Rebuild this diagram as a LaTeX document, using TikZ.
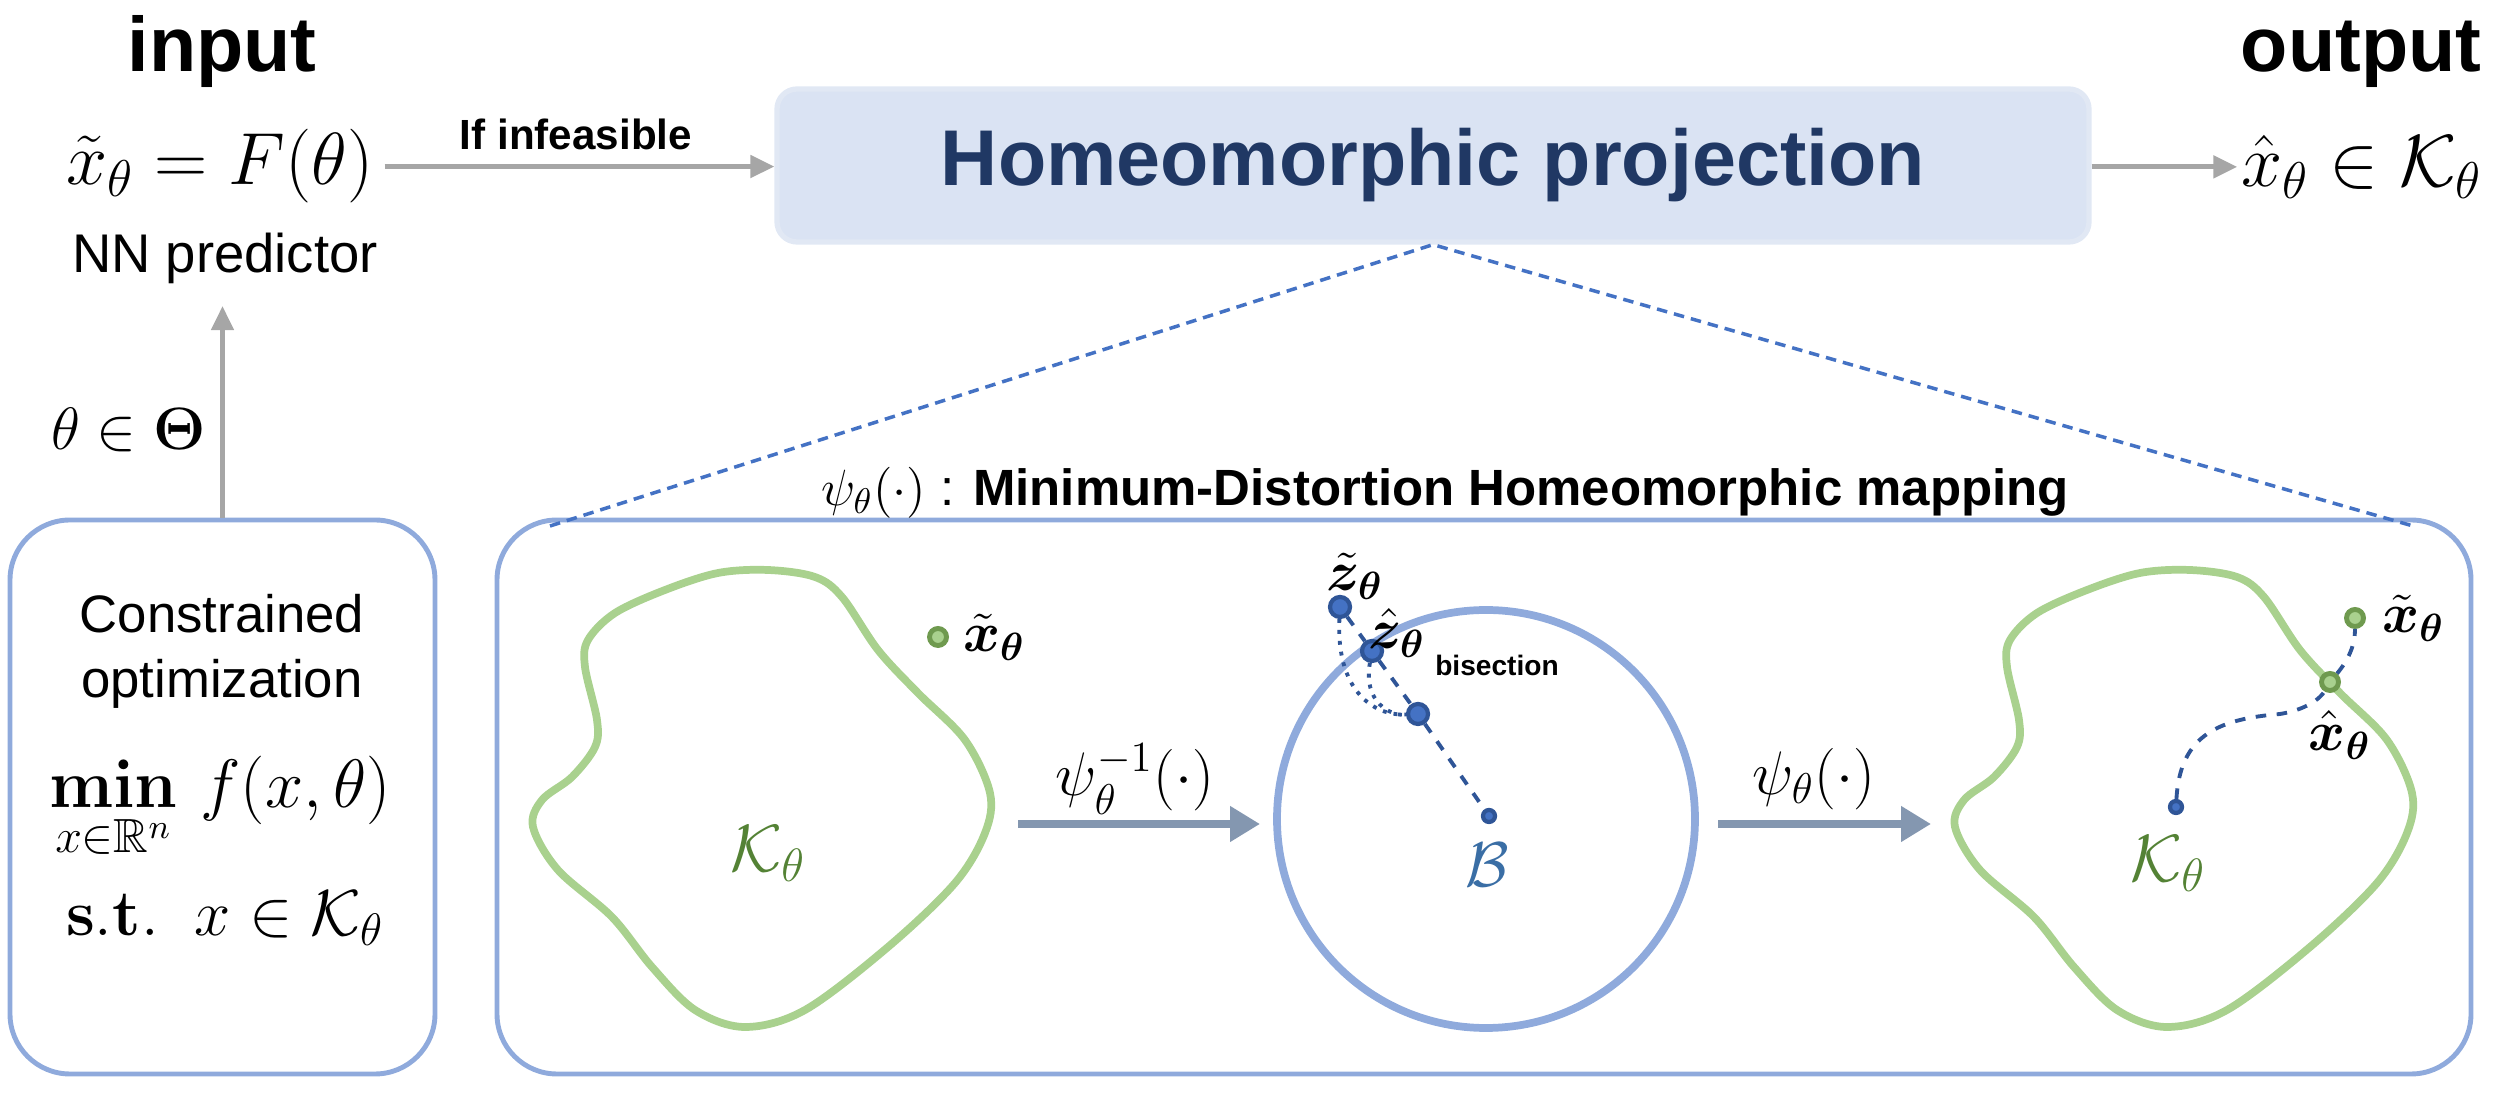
\RequirePackage{fix-cm}
\documentclass[tikz,border=0pt]{standalone}
\usepackage{amsmath,amssymb,bm}
\usepackage[no-math]{fontspec}
\setmainfont{Liberation Sans}
\usetikzlibrary{arrows.meta,positioning}

\definecolor{boxblue}{HTML}{8FAADC}
\definecolor{projfill}{HTML}{DAE3F3}
\definecolor{projline}{HTML}{E1E8F4}
\definecolor{projtext}{HTML}{203864}
\definecolor{arrgray}{HTML}{A6A6A6}
\definecolor{mapgray}{HTML}{8497B0}
\definecolor{blobgreen}{HTML}{A9D18E}
\definecolor{kgreen}{HTML}{548235}
\definecolor{ringgreen}{HTML}{6F9A4F}
\definecolor{dashblue}{HTML}{4472C4}
\definecolor{ptblue}{HTML}{2F5597}
\definecolor{bblue}{HTML}{3A6EA5}

\newcommand{\fsz}[1]{\fontsize{#1}{1.2\dimexpr#1pt\relax}\selectfont}
% outline of the feasible set, reused on both sides
\newcommand{\blobshape}{plot[smooth cycle, tension=0.55] coordinates {
  (7.68,5.24) (8.15,5.17) (8.42,4.97) (8.78,4.44) (9.18,4.01) (9.65,3.54)
  (9.90,3.01) (9.85,2.61) (9.55,2.11) (8.88,1.47) (8.05,0.84) (7.45,0.67)
  (6.95,0.84) (6.52,1.27) (6.12,1.77) (5.58,2.24) (5.33,2.67) (5.42,2.94)
  (5.72,3.17) (5.95,3.47) (5.97,3.74) (5.85,4.27) (5.88,4.54) (6.15,4.81)
  (6.65,5.04) (7.18,5.21)}}

\begin{document}
\begin{tikzpicture}[
  panel/.style={draw=boxblue, line width=1.4pt, rounded corners=0.6cm},
  grayarrow/.style={draw=arrgray, line width=1.4pt, -{Triangle[length=0.24cm,width=0.22cm]}},
  maparrow/.style={draw=mapgray, line width=2.2pt, -{Triangle[length=0.3cm,width=0.34cm]}},
  blob/.style={draw=blobgreen, line width=2.2pt},
  gpoint/.style={circle, draw=ringgreen, fill=blobgreen, line width=1.4pt, inner sep=0pt, minimum size=0.17cm},
  bpoint/.style={circle, draw=ptblue, fill=dashblue, line width=1.2pt, inner sep=0pt, minimum size=0.2cm},
  link/.style={draw=ptblue, line width=1.1pt, dashed},
  zoomline/.style={draw=dashblue, line width=1pt, dash pattern=on 3pt off 2pt},
  head/.style={font=\fsz{22}\bfseries, anchor=base, inner sep=1pt},
  formula/.style={font=\fsz{21}, anchor=base, inner sep=1pt},
  ptlabel/.style={font=\fsz{16}, inner sep=1pt}
]
  \useasboundingbox (0,0) rectangle (25.02,10.94);

  % Top row
  \node[head] (in) at (2.22, 10.22) {input};
  \node[head] (out) at (23.61, 10.22) {output};
  \node[formula] (xt) at (2.20, 9.09) {$\tilde{x}_\theta = F(\theta)$};
  \node[font=\fsz{15.5}, anchor=base, inner sep=2pt] (pred) at (2.25, 8.21) {NN predictor};
  \node[rectangle, rounded corners=0.2cm, fill=projfill, draw=projline, line width=1.5pt,
        minimum width=13.12cm, minimum height=1.53cm, text=projtext, font=\fsz{22.5}\bfseries]
        (proj) at (14.33, 9.285) {Homeomorphic projection};
  \node[formula] (xo) at (23.62, 9.07) {$\hat{x}_\theta \in \mathcal{K}_\theta$};

  \draw[grayarrow, shorten <=2pt] (xt.east) -- node[above=0.02cm, font=\fsz{12}\bfseries] {If infeasible} (xt.east -| proj.west);
  \draw[grayarrow] (proj.east |- xo.west) -- (xo.west);

  % Optimization problem
  \node[panel, minimum width=4.25cm, minimum height=5.54cm] (opt) at (2.225, 2.97) {};
  \node[font=\fsz{15}] (cons) at (2.22, 4.80) {Constrained};
  \node[font=\fsz{15}] (optim) at (2.22, 4.10) {optimization};
  \node[font=\fsz{19.5}, anchor=base] (obj) at (2.20, 2.86)
    {$\mathop{\mathbf{min}}\limits_{x\in\mathbb{R}^n}\, f(x,\theta)$};
  \node[font=\fsz{18.5}, anchor=base] (cstr) at (2.25, 1.58)
    {$\mathbf{s.t.}\;\; x \in \mathcal{K}_\theta$};
  \draw[grayarrow, shorten >=4pt] (opt.north) -- (opt.north |- pred.south)
    node[pos=0.39, left=0.03cm, font=\fsz{17}] (th) {$\theta \in \mathbf{\Theta}$};

  % Mapping panel
  \node[panel, minimum width=19.74cm, minimum height=5.54cm] (map) at (14.84, 2.97) {};
  \node[font=\fsz{14.5}, anchor=base] (maptitle) at (14.45, 5.88)
    {$\psi_\theta(\cdot)$ : \textbf{Minimum-Distortion Homeomorphic mapping}};
  \coordinate (zl) at (5.50, 5.68);
  \coordinate (zr) at (24.13, 5.68);
  \draw[zoomline] (zl) -- (proj.south) -- (zr);

  % Left: constraint set
  \draw[blob] \blobshape;
  \node[font=\fsz{19}, text=kgreen] (kl) at (7.68, 2.40) {$\mathcal{K}_\theta$};
  \node[gpoint] (xl) at (9.38, 4.57) {};
  \node[ptlabel, right=0.1cm of xl] (xll) {$\tilde{\bm{x}}_{\bm{\theta}}$};

  % Middle: unit ball
  \node[circle, draw=boxblue, line width=2.2pt, minimum size=4.18cm] (ball) at (14.86, 2.75) {};
  \node[font=\fsz{18}, text=bblue] (bl) at (14.87, 2.29) {$\mathcal{B}$};
  \node[bpoint] (zt) at (13.40, 4.87) {};
  \node[bpoint] (zh) at (13.72, 4.43) {};
  \node[bpoint] (zm) at (14.18, 3.80) {};
  \node[bpoint, minimum size=0.12cm] (bc) at (14.89, 2.78) {};
  \draw[link] (zt) -- (zh) -- (zm) -- (bc);
  \draw[draw=ptblue, line width=1.1pt, dotted] (zt) .. controls (13.36,4.05) and (13.72,3.78) .. (zm);
  \draw[draw=ptblue, line width=1.1pt, dotted] (zh) .. controls (13.63,3.92) and (13.90,3.78) .. (zm);
  \node[ptlabel] (ztl) at (13.55, 5.18) {$\tilde{\bm{z}}_{\bm{\theta}}$};
  \node[ptlabel] (zhl) at (13.97, 4.61) {$\hat{\bm{z}}_{\bm{\theta}}$};
  \node[font=\fsz{8}\bfseries] (bis) at (14.97, 4.29) {bisection};

  % Right: constraint set again
  \draw[blob, xshift=14.22cm] \blobshape;
  \node[font=\fsz{19}, text=kgreen] (kr) at (21.68, 2.30) {$\mathcal{K}_\theta$};
  \node[gpoint] (xr) at (23.55, 4.76) {};
  \node[gpoint] (xh) at (23.30, 4.12) {};
  \node[bpoint, minimum size=0.12cm] (kc) at (21.76, 2.87) {};
  \node[ptlabel, right=0.12cm of xr] (xrl) {$\tilde{\bm{x}}_{\bm{\theta}}$};
  \node[ptlabel] (xhl) at (23.40, 3.59) {$\hat{\bm{x}}_{\bm{\theta}}$};
  \draw[link] (kc) .. controls (21.80,3.60) and (22.20,3.75) .. (22.80,3.80)
              .. controls (23.05,3.84) and (23.20,3.95) .. (xh)
              .. controls (23.45,4.30) and (23.55,4.45) .. (xr);

  % Mapping arrows
  \draw[maparrow] (10.18, 2.70) coordinate (a1) -- (12.60, 2.70) coordinate (a2);
  \node[font=\fsz{17.5}] (inv) at (11.35, 3.15) {$\psi_\theta^{-1}(\cdot)$};
  \draw[maparrow] (17.18, 2.70) coordinate (b1) -- (19.31, 2.70) coordinate (b2);
  \node[font=\fsz{17.5}] (fwd) at (18.14, 3.15) {$\psi_\theta(\cdot)$};
\end{tikzpicture}
\end{document}
